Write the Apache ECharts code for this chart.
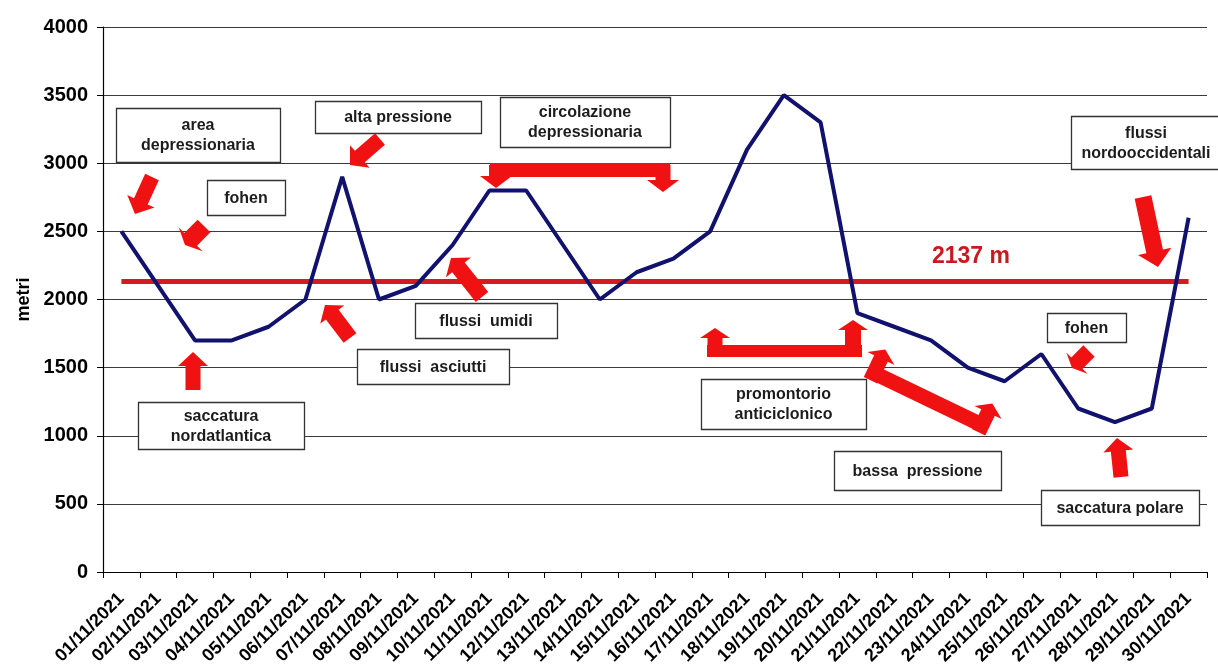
<!DOCTYPE html>
<html>
<head>
<meta charset="utf-8">
<script src="https://cdn.jsdelivr.net/npm/echarts@6/dist/echarts.min.js"></script>
<style>
html,body{margin:0;padding:0;background:#fff;}
#chart{width:1218px;height:670px;}
</style>
</head>
<body>
<div id="chart"></div>
<script>
const categories = ['01/11/2021','02/11/2021','03/11/2021','04/11/2021','05/11/2021','06/11/2021','07/11/2021','08/11/2021','09/11/2021','10/11/2021','11/11/2021','12/11/2021','13/11/2021','14/11/2021','15/11/2021','16/11/2021','17/11/2021','18/11/2021','19/11/2021','20/11/2021','21/11/2021','22/11/2021','23/11/2021','24/11/2021','25/11/2021','26/11/2021','27/11/2021','28/11/2021','29/11/2021','30/11/2021'];
const altitudes = [2500,2100,1700,1700,1800,2000,2900,2000,2100,2400,2800,2800,2400,2000,2200,2300,2500,3100,3500,3300,1900,1800,1700,1500,1400,1600,1200,1100,1200,2600];
const meanAltitude = 2137;
const meanLabel = '2137 m';
const yTicks = [0,500,1000,1500,2000,2500,3000,3500,4000];
const yAxisName = 'metri';
const boxTexts = ['area\ndepressionaria','fohen','alta pressione','circolazione\ndepressionaria','flussi  umidi','flussi  asciutti','saccatura\nnordatlantica','promontorio\nanticiclonico','bassa  pressione','flussi\nnordooccidentali','fohen','saccatura polare'];

const RED = '#f01212';
const TXT = '#1c1c1c';
const FONT = 'Liberation Sans, Arial, sans-serif';

// annotation layout (pixels): [x, y, w, h]
const boxLayout = [
  [116,108,164,54],[207,180,78,35],[315,101,166,32],[500,97,170,50],
  [415,303,142,35],[357,349,152,35],[138,402,166,47],[701,379,165,50],
  [834,451,167,39],[1071,116,150,53],[1047,313,79,29],[1041,490,158,35]
];

function arrowPts(x1,y1,x2,y2,sw,hw,hl){
  const dx=x2-x1, dy=y2-y1, L=Math.hypot(dx,dy);
  const ux=dx/L, uy=dy/L, nx=-uy, ny=ux;
  const bx=x2-ux*hl, by=y2-uy*hl;
  return [
    [x1+nx*sw/2,y1+ny*sw/2],[bx+nx*sw/2,by+ny*sw/2],[bx+nx*hw/2,by+ny*hw/2],
    [x2,y2],
    [bx-nx*hw/2,by-ny*hw/2],[bx-nx*sw/2,by-ny*sw/2],[x1-nx*sw/2,y1-ny*sw/2]
  ];
}
function arrow(x1,y1,x2,y2,sw,hw,hl){
  return {type:'polygon',z:100,shape:{points:arrowPts(x1,y1,x2,y2,sw,hw,hl)},style:{fill:RED}};
}
function bar(pts,w){
  return {type:'polyline',z:100,shape:{points:pts},style:{stroke:RED,lineWidth:w,fill:null,lineCap:'butt'}};
}

const chart = echarts.init(document.getElementById('chart'));

const graphics = [];
boxLayout.forEach((b,i)=>{
  graphics.push({type:'rect',z:100,shape:{x:b[0]+0.5,y:b[1]+0.5,width:b[2],height:b[3]},style:{fill:'#fff',stroke:'#333',lineWidth:1.3}});
  graphics.push({type:'text',z:101,x:b[0]+b[2]/2,y:b[1]+b[3]/2+1,style:{text:boxTexts[i],font:'bold 16px '+FONT,fill:TXT,align:'center',verticalAlign:'middle',lineHeight:20}});
});
// mean label
graphics.push({type:'text',z:101,x:971,y:257,style:{text:meanLabel,font:'bold 23px '+FONT,fill:'#c8191e',align:'center',verticalAlign:'middle'}});
// simple arrows
graphics.push(arrow(152,177,135,214,15,30,14));
graphics.push(arrow(204,226,185,245,18,34,8));
graphics.push(arrow(380,139,350,165,15,30,13));
graphics.push(arrow(482,297,451,258,16,32,12));
graphics.push(arrow(350,338,325,305,16,30,12));
graphics.push(arrow(193,390,193,352,15,30,14));
graphics.push(arrow(1089,351,1072,368,16,30,7));
graphics.push(arrow(1143,197,1158,267,17,34,16));
graphics.push(arrow(1121,477,1117,438,15,30,13));
// circolazione bracket
graphics.push(bar([[490,170],[670,170]],14));
graphics.push(arrow(496,165,496,188,14,32,12));
graphics.push(arrow(663,165,663,192,15,32,12));
// promontorio bracket
graphics.push(bar([[707,351],[862,351]],12));
graphics.push(arrow(715,357,715,328,15,30,10));
graphics.push(arrow(853,357,853,320,16,30,10));
// bassa pressione bracket
(function(){
  const th=Math.atan2(52,108), ux=Math.sin(th), uy=-Math.cos(th);
  const P1=[874,373], P2=[982,425];
  graphics.push(bar([P1,P2],15));
  graphics.push(arrow(P1[0]-ux*8,P1[1]-uy*8,P1[0]+ux*26,P1[1]+uy*26,15,30,10));
  graphics.push(arrow(P2[0]-ux*8,P2[1]-uy*8,P2[0]+ux*24,P2[1]+uy*24,15,30,10));
})();

chart.setOption({
  animation:false,
  backgroundColor:'#fff',
  grid:{left:103,right:11,top:27,bottom:98,containLabel:false},
  xAxis:{
    type:'category',data:categories,boundaryGap:true,
    axisLine:{show:true,lineStyle:{color:'#000',width:1.2}},
    axisTick:{show:true,length:6,lineStyle:{color:'#000'}},
    axisLabel:{rotate:45,margin:24,interval:0,color:'#000',fontWeight:'bold',fontSize:18,fontFamily:FONT},
    splitLine:{show:false}
  },
  yAxis:{
    type:'value',min:yTicks[0],max:yTicks[yTicks.length-1],interval:500,
    name:yAxisName,nameLocation:'middle',nameGap:52,
    nameTextStyle:{color:'#000',fontWeight:'bold',fontSize:18,fontFamily:FONT},
    axisLine:{show:true,lineStyle:{color:'#000',width:1.2}},
    axisTick:{show:true,length:6,lineStyle:{color:'#000'}},
    axisLabel:{margin:15,color:'#000',fontWeight:'bold',fontSize:20,fontFamily:FONT,formatter:function(v){return String(v);}},
    splitLine:{show:true,lineStyle:{color:'#3a3a3a',width:1.2}}
  },
  series:[{
    type:'line',data:altitudes,symbol:'none',
    lineStyle:{color:'#11116e',width:4},
    z:3,
    markLine:{
      silent:true,symbol:['none','none'],label:{show:false},
      lineStyle:{color:'#d21c22',width:5,type:'solid'},
      z:2,
      data:[[{coord:[categories[0],meanAltitude]},{coord:[categories[categories.length-1],meanAltitude]}]]
    }
  }],
  graphic:graphics
});
</script>
</body>
</html>
